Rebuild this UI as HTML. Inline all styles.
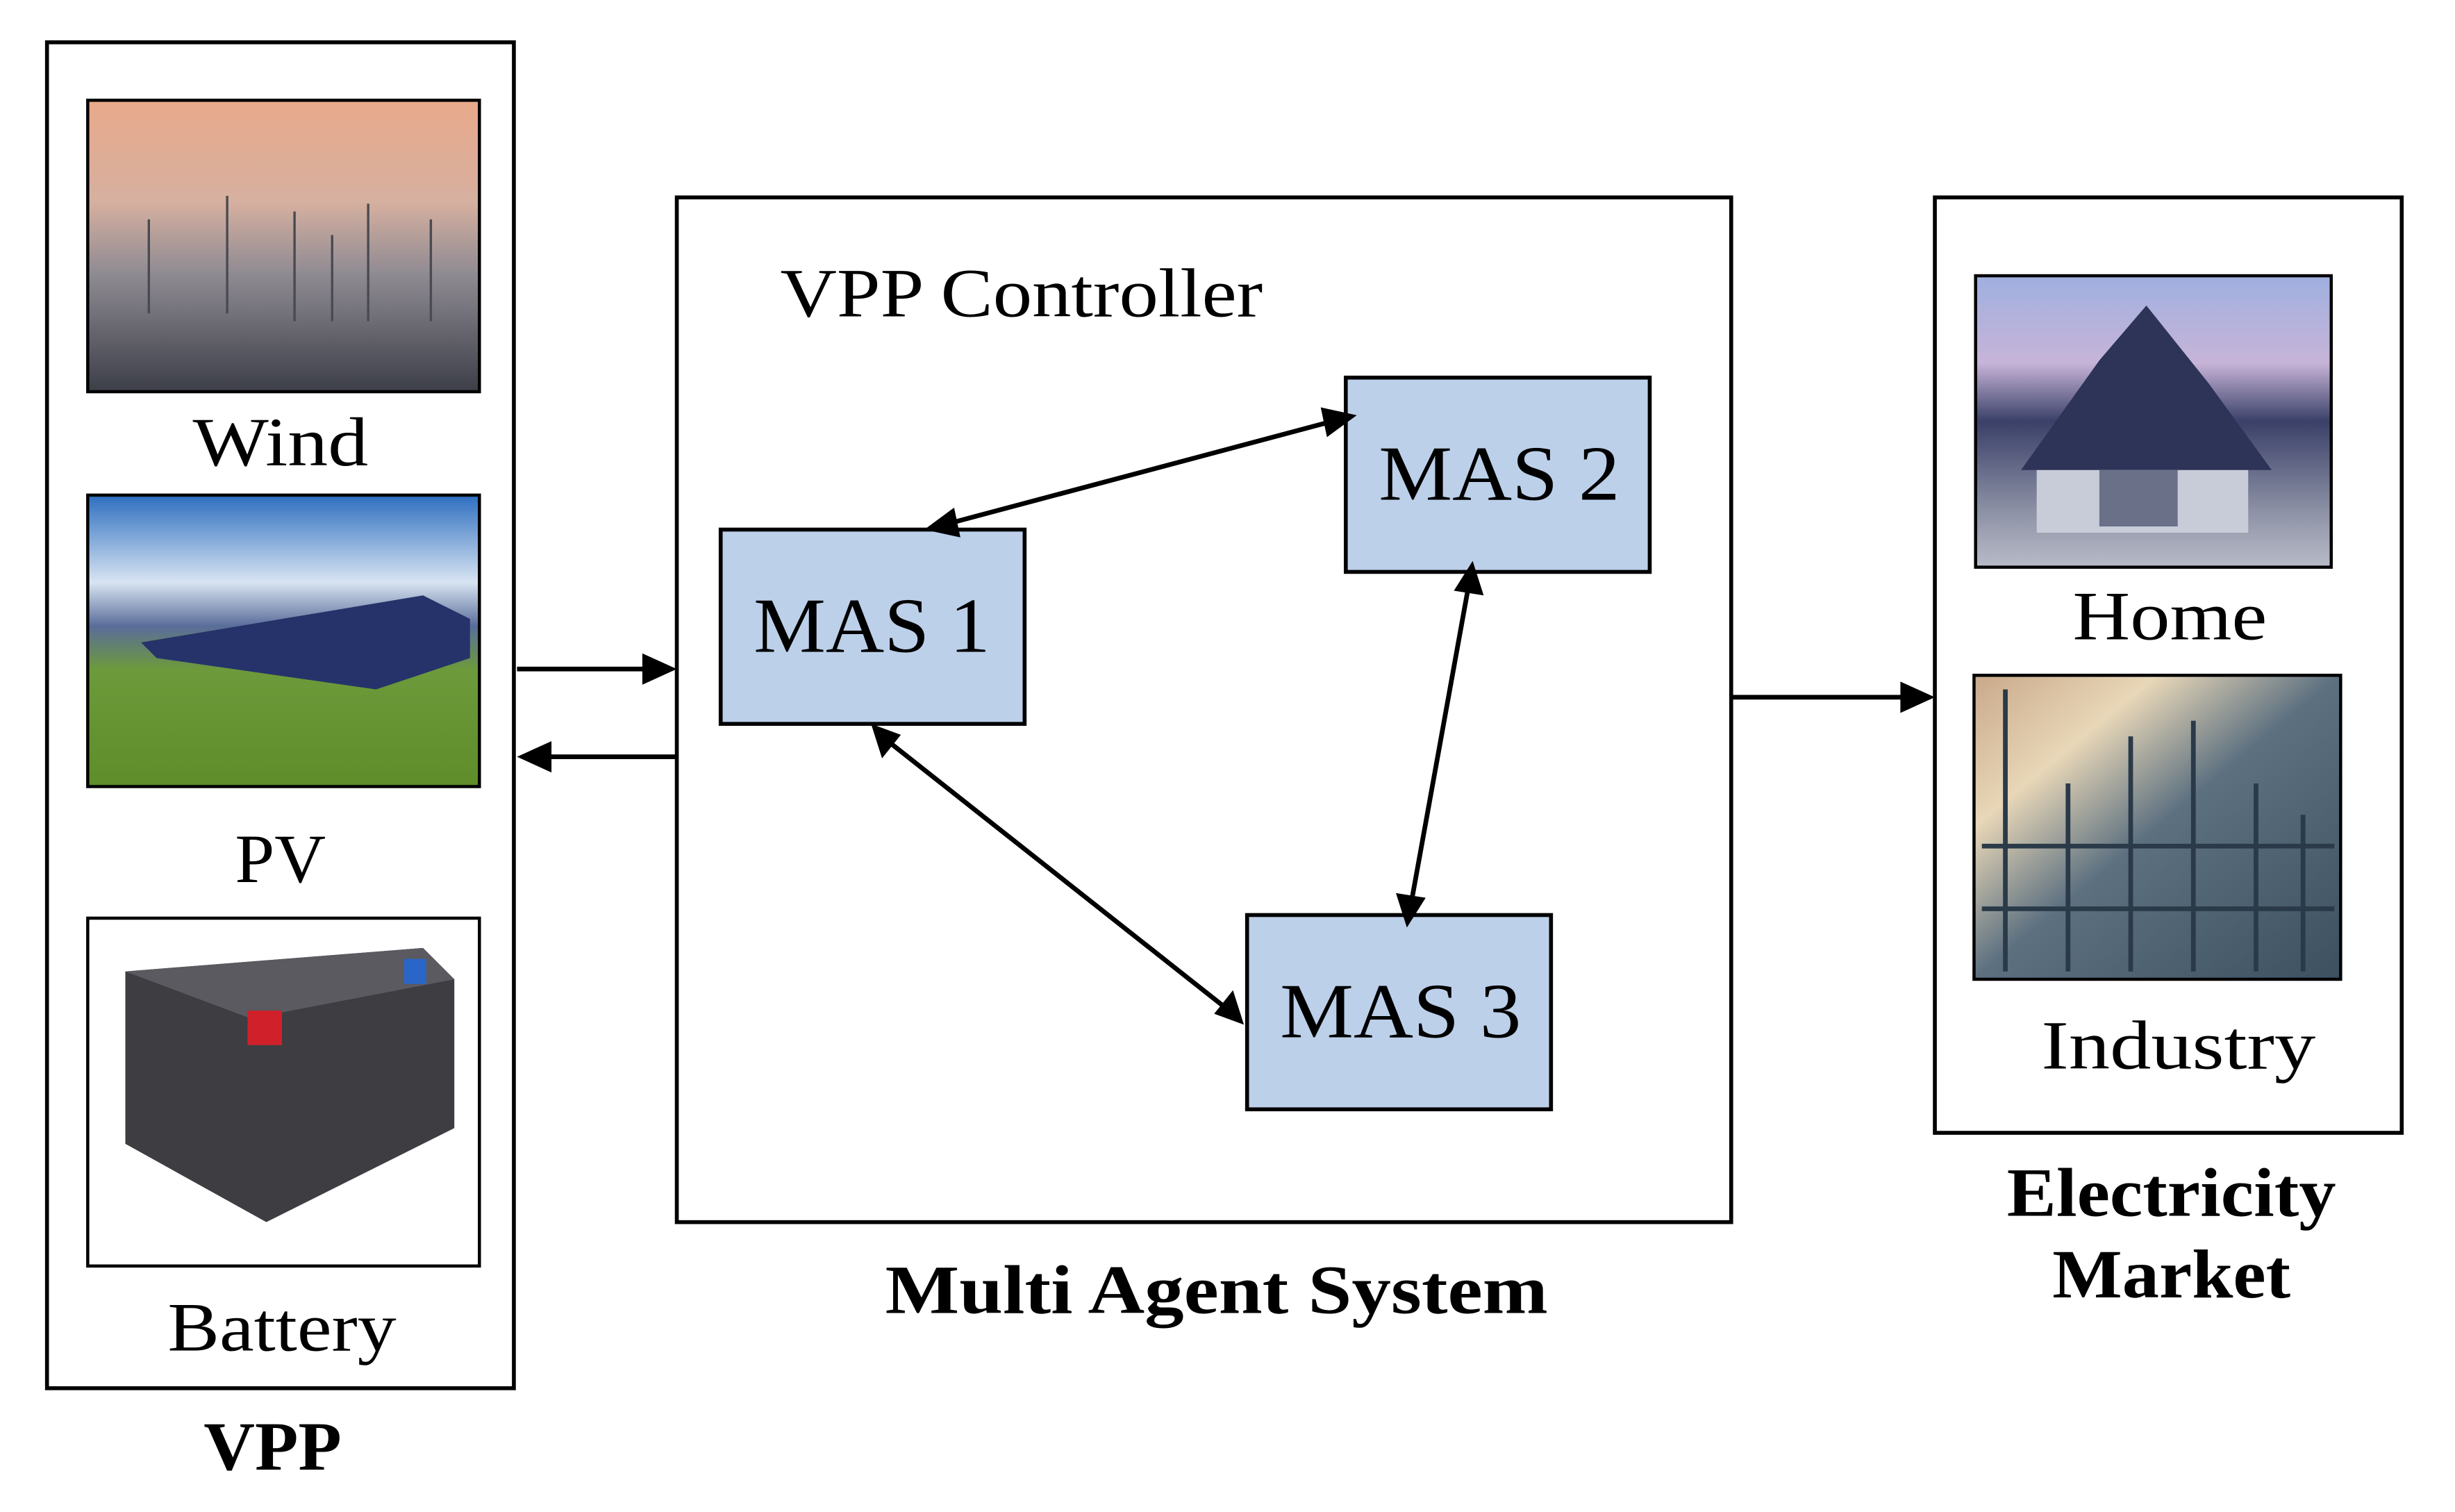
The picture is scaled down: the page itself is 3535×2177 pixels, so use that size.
<!DOCTYPE html>
<html><head><meta charset="utf-8"><style>
html,body{margin:0;padding:0;background:#fff;}
svg{display:block;}
text{font-family:"Liberation Serif",serif;fill:#000;}
</style></head><body>
<svg width="3535" height="2177" viewBox="0 0 1567 965" preserveAspectRatio="none" xmlns="http://www.w3.org/2000/svg">
<defs>
<linearGradient id="wind" x1="0" y1="0" x2="0" y2="1">
<stop offset="0" stop-color="#e9a98a"/><stop offset="0.35" stop-color="#d6b0a0"/><stop offset="0.6" stop-color="#8e8a92"/><stop offset="1" stop-color="#3c3e48"/></linearGradient>
<linearGradient id="pv" x1="0" y1="0" x2="0" y2="1">
<stop offset="0" stop-color="#2e6fc0"/><stop offset="0.3" stop-color="#d8e4f2"/><stop offset="0.45" stop-color="#5a6d9a"/><stop offset="0.6" stop-color="#6d9a3a"/><stop offset="1" stop-color="#5f8d2a"/></linearGradient>
<linearGradient id="home" x1="0" y1="0" x2="0" y2="1">
<stop offset="0" stop-color="#9fb0e0"/><stop offset="0.3" stop-color="#c7b4d8"/><stop offset="0.5" stop-color="#3a4068"/><stop offset="0.8" stop-color="#8b8fa4"/><stop offset="1" stop-color="#b8bcc8"/></linearGradient>
<linearGradient id="ind" x1="0" y1="0" x2="1" y2="1">
<stop offset="0" stop-color="#c9a98a"/><stop offset="0.25" stop-color="#e8d7b8"/><stop offset="0.5" stop-color="#5c7080"/><stop offset="1" stop-color="#3c5060"/></linearGradient>
</defs>

<!-- VPP box -->
<rect x="30" y="27" width="298" height="859" fill="none" stroke="#000" stroke-width="2.5"/>
<rect x="56" y="64" width="250" height="186" fill="url(#wind)" stroke="#000" stroke-width="2"/>
<g stroke="#4a4a52" stroke-width="1.5">
<line x1="95" y1="140" x2="95" y2="200"/><line x1="145" y1="125" x2="145" y2="200"/><line x1="188" y1="135" x2="188" y2="205"/><line x1="235" y1="130" x2="235" y2="205"/><line x1="275" y1="140" x2="275" y2="205"/><line x1="212" y1="150" x2="212" y2="205"/>
</g>
<text x="123" y="297" font-size="44" textLength="112" lengthAdjust="spacingAndGlyphs">Wind</text>
<rect x="56" y="316" width="250" height="186" fill="url(#pv)" stroke="#000" stroke-width="2"/>
<polygon points="90,410 270,380 300,395 300,420 240,440 100,420" fill="#26336a"/>
<text x="150" y="563" font-size="44" textLength="58" lengthAdjust="spacingAndGlyphs">PV</text>
<rect x="56" y="586" width="250" height="222" fill="#fff" stroke="#000" stroke-width="2"/>
<polygon points="80,620 270,605 290,625 290,720 170,780 80,730" fill="#3d3d42"/>
<polygon points="80,620 270,605 290,625 160,650" fill="#5a5a60"/>
<rect x="158" y="645" width="22" height="22" fill="#d0202a"/>
<rect x="258" y="612" width="14" height="16" fill="#2a66c8"/>
<text x="107" y="862" font-size="44" textLength="146" lengthAdjust="spacingAndGlyphs">Battery</text>
<text x="130" y="938" font-size="44" font-weight="bold" textLength="88" lengthAdjust="spacingAndGlyphs">VPP</text>

<!-- MAS box -->
<rect x="432" y="126" width="673" height="654" fill="none" stroke="#000" stroke-width="2.5"/>
<text x="498" y="202" font-size="44" textLength="308" lengthAdjust="spacingAndGlyphs">VPP Controller</text>
<rect x="460" y="338" width="194" height="124" fill="#bdd0ea" stroke="#000" stroke-width="2.5"/>
<text x="481" y="416" font-size="50" textLength="151" lengthAdjust="spacingAndGlyphs">MAS 1</text>
<rect x="859" y="241" width="194" height="124" fill="#bdd0ea" stroke="#000" stroke-width="2.5"/>
<text x="880" y="319" font-size="50" textLength="154" lengthAdjust="spacingAndGlyphs">MAS 2</text>
<rect x="796" y="584" width="194" height="124" fill="#bdd0ea" stroke="#000" stroke-width="2.5"/>
<text x="817" y="662" font-size="50" textLength="154" lengthAdjust="spacingAndGlyphs">MAS 3</text>
<text x="565" y="838" font-size="44" font-weight="bold" textLength="423" lengthAdjust="spacingAndGlyphs">Multi Agent System</text>

<!-- arrows -->
<g stroke="#000" stroke-width="3">
<line x1="330" y1="427" x2="415" y2="427"/>
<line x1="432" y1="483" x2="347" y2="483"/>
<line x1="1105" y1="445" x2="1218" y2="445"/>
<line x1="606" y1="334" x2="850" y2="269"/>
<line x1="937" y1="376" x2="901" y2="575"/>
<line x1="568" y1="474" x2="782" y2="643"/>
</g>
<g fill="#000">
<polygon points="432,427 410,417 410,437"/>
<polygon points="330,483 352,473 352,493"/>
<polygon points="1235,445 1213,435 1213,455"/>
<polygon points="590,338 609,324 613,343"/>
<polygon points="866,265 847,279 843,260"/>
<polygon points="940,358 947,380 928,377"/>
<polygon points="898,592 891,570 910,573"/>
<polygon points="556,462 575,469 563,484"/>
<polygon points="794,654 775,647 787,632"/>
</g>

<!-- Market box -->
<rect x="1235" y="126" width="298" height="597" fill="none" stroke="#000" stroke-width="2.5"/>
<rect x="1261" y="176" width="227" height="186" fill="url(#home)" stroke="#000" stroke-width="2"/>
<polygon points="1290,300 1340,230 1370,195 1410,245 1450,300" fill="#2e3358"/>
<rect x="1300" y="300" width="135" height="40" fill="#c8ccd8"/>
<rect x="1340" y="300" width="50" height="36" fill="#6a7088"/>
<text x="1323" y="408" font-size="44" textLength="124" lengthAdjust="spacingAndGlyphs">Home</text>
<rect x="1260" y="431" width="234" height="194" fill="url(#ind)" stroke="#000" stroke-width="2"/>
<g stroke="#2a3a48" stroke-width="3">
<line x1="1280" y1="440" x2="1280" y2="620"/><line x1="1320" y1="500" x2="1320" y2="620"/><line x1="1360" y1="470" x2="1360" y2="620"/><line x1="1400" y1="460" x2="1400" y2="620"/><line x1="1440" y1="500" x2="1440" y2="620"/><line x1="1470" y1="520" x2="1470" y2="620"/>
<line x1="1265" y1="540" x2="1490" y2="540"/><line x1="1265" y1="580" x2="1490" y2="580"/>
</g>
<text x="1303" y="682" font-size="44" textLength="175" lengthAdjust="spacingAndGlyphs">Industry</text>
<text x="1281" y="776" font-size="44" font-weight="bold" textLength="210" lengthAdjust="spacingAndGlyphs">Electricity</text>
<text x="1310" y="828" font-size="44" font-weight="bold" textLength="152" lengthAdjust="spacingAndGlyphs">Market</text>
</svg>
</body></html>
